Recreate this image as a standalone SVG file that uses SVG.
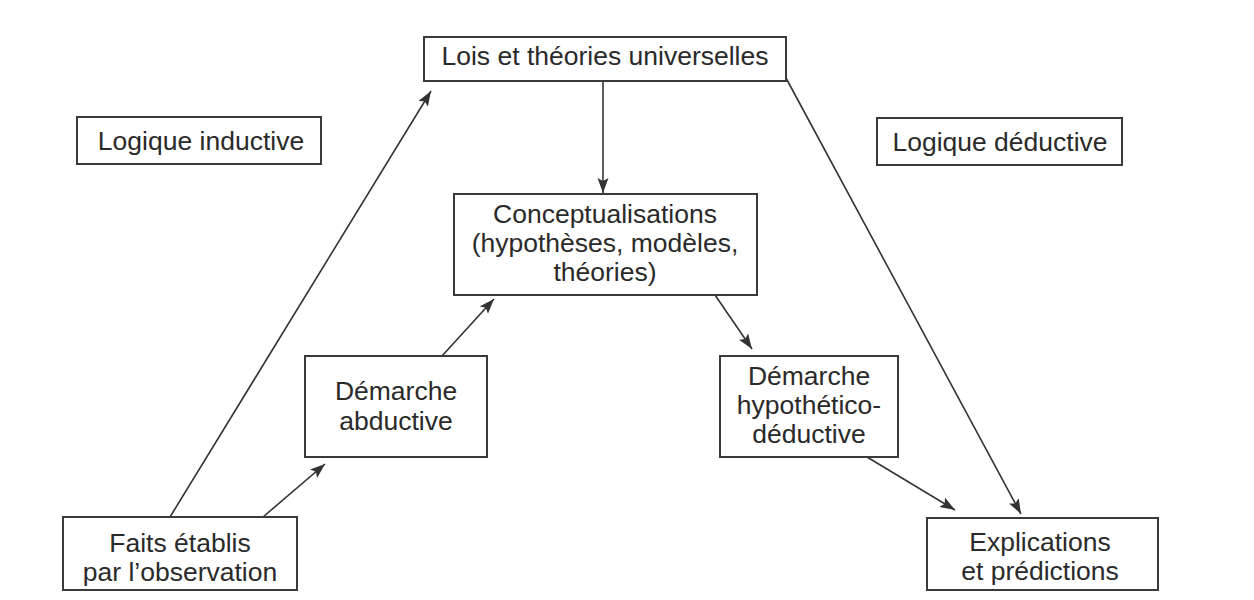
<svg xmlns="http://www.w3.org/2000/svg" width="1254" height="600" viewBox="0 0 1254 600">
<style>
.box{fill:#fff;stroke:#3a3a3a;stroke-width:2}
.t{font-family:"Liberation Sans",Arial,sans-serif;font-size:26.5px;fill:#2a2a2a;text-anchor:middle}
.c{fill:none;stroke:#333;stroke-width:1.6}
</style>
<defs>
<marker id="ah" markerUnits="userSpaceOnUse" markerWidth="16" markerHeight="12" refX="15" refY="6" orient="auto">
<path d="M0,0.5 L15,6 L0,11.5 L3,6 z" fill="#333"/>
</marker>
</defs>
<rect width="1254" height="600" fill="#fff"/>
<g id="connectors">
<line class="c" x1="170" y1="517" x2="431" y2="91" marker-end="url(#ah)"/>
<line class="c" x1="263" y1="517" x2="325" y2="464" marker-end="url(#ah)"/>
<line class="c" x1="442" y1="356" x2="494" y2="299" marker-end="url(#ah)"/>
<line class="c" x1="603" y1="82" x2="603" y2="193" marker-end="url(#ah)"/>
<line class="c" x1="715" y1="295" x2="752" y2="349" marker-end="url(#ah)"/>
<line class="c" x1="786" y1="78" x2="1021" y2="514" marker-end="url(#ah)"/>
<line class="c" x1="867" y1="457" x2="955" y2="510" marker-end="url(#ah)"/>
</g>
<g id="lois">
<rect class="box" x="424" y="37" width="362" height="44"/>
<text class="t" x="605" y="65">Lois et théories universelles</text>
</g>
<g id="logique-inductive">
<rect class="box" x="77" y="117" width="244" height="47"/>
<text class="t" x="201" y="150">Logique inductive</text>
</g>
<g id="logique-deductive">
<rect class="box" x="877" y="118" width="245" height="47"/>
<text class="t" x="1000" y="151">Logique déductive</text>
</g>
<g id="conceptualisations">
<rect class="box" x="454" y="194" width="303" height="101"/>
<text class="t" x="605" y="223">Conceptualisations</text>
<text class="t" x="605" y="252">(hypothèses, modèles,</text>
<text class="t" x="605" y="281">théories)</text>
</g>
<g id="abductive">
<rect class="box" x="305" y="356" width="182" height="101"/>
<text class="t" x="396" y="400">Démarche</text>
<text class="t" x="396" y="430">abductive</text>
</g>
<g id="hypothetico">
<rect class="box" x="720" y="356" width="178" height="101"/>
<text class="t" x="809" y="385">Démarche</text>
<text class="t" x="809" y="414">hypothético-</text>
<text class="t" x="809" y="443">déductive</text>
</g>
<g id="faits">
<rect class="box" x="63" y="517" width="234" height="73"/>
<text class="t" x="180" y="552">Faits établis</text>
<text class="t" x="180" y="581">par l’observation</text>
</g>
<g id="explications">
<rect class="box" x="927" y="518" width="231" height="72"/>
<text class="t" x="1040" y="551">Explications</text>
<text class="t" x="1040" y="580">et prédictions</text>
</g>
</svg>
